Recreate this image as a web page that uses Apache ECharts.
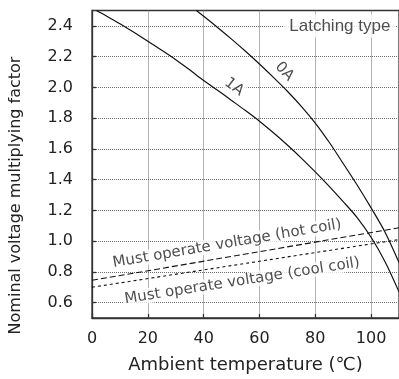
<!DOCTYPE html>
<html>
<head>
<meta charset="utf-8">
<script src="https://cdn.jsdelivr.net/npm/echarts@6/dist/echarts.min.js"></script>
<style>
  html, body { margin: 0; padding: 0; background: #fff; }
  #chart { width: 399px; height: 379px; }
</style>
</head>
<body>
<div id="chart"></div>
<script>
// Ambient temperature (°C) and nominal voltage multiplying factor for each curve
const temps0A = [37.4, 40, 45, 50, 55, 60, 65, 70, 75, 80, 85, 90, 95, 100, 105, 110];
const factor0A = [2.5, 2.463, 2.39, 2.314, 2.235, 2.152, 2.065, 1.975, 1.877, 1.768, 1.643, 1.505, 1.365, 1.216, 1.058, 0.861];

const temps1A = [1.6, 5, 10, 15, 20, 25, 30, 35, 40, 45, 50, 55, 60, 65, 70, 75, 80, 85, 90, 95, 100, 105, 110];
const factor1A = [2.5, 2.466, 2.414, 2.358, 2.30, 2.241, 2.18, 2.114, 2.045, 1.981, 1.915, 1.849, 1.78, 1.705, 1.625, 1.54, 1.45, 1.356, 1.257, 1.153, 1.025, 0.866, 0.67];

const tempsHot = [0, 110];
const factorHot = [0.745, 1.087];

const tempsCool = [0, 110];
const factorCool = [0.70, 1.010];

// Tick labels
const xTickLabels = [0, 20, 40, 60, 80, 100];
const yTickLabels = [0.6, 0.8, 1.0, 1.2, 1.4, 1.6, 1.8, 2.0, 2.2, 2.4];

// Curve annotations: [temperature, factor, text, rotation in degrees]
const curveNotes = [
  [50.9, 2.003, '1A', -38],
  [68.9, 2.103, '0A', -47],
  [48.4, 0.983, 'Must operate voltage (hot coil)', 9.7],
  [53.8, 0.741, 'Must operate voltage (cool coil)', 8.9]
];
const cornerNote = [88.8, 2.40, 'Latching type'];

const zip = (xs, ys) => xs.map((x, i) => [x, ys[i]]);

const FONT = "'DejaVu Sans', 'Noto Sans CJK JP', sans-serif";
const INK = '#222';

const chart = echarts.init(document.getElementById('chart'), null, { renderer: 'canvas' });

const curveLine = { color: '#111', width: 1.2 };
const gridDots = { color: '#6a6a6a', width: 1, type: [1, 1] };

chart.setOption({
  animation: false,
  backgroundColor: '#fff',
  grid: {
    left: 92, right: -2, top: 10.5, bottom: 60.5,
    show: true, borderColor: '#333', borderWidth: 1.3, backgroundColor: 'transparent'
  },
  xAxis: {
    type: 'value', min: 0, max: 110, interval: 10,
    name: 'Ambient temperature (℃)',
    nameLocation: 'middle', nameGap: 38,
    nameTextStyle: { fontFamily: FONT, fontSize: 18, color: INK },
    axisLine: { show: true, lineStyle: { color: '#333', width: 1.3 } },
    axisTick: { show: true, inside: true, length: 4, customValues: xTickLabels, lineStyle: { color: '#333', width: 1.3 } },
    axisLabel: { customValues: xTickLabels, margin: 13, fontFamily: FONT, fontSize: 16, color: INK },
    splitLine: { show: true, lineStyle: gridDots }
  },
  yAxis: {
    type: 'value', min: 0.5, max: 2.5, interval: 0.1,
    axisLine: { show: true, lineStyle: { color: '#333', width: 1.3 } },
    axisTick: { show: true, inside: true, length: 4, customValues: yTickLabels, lineStyle: { color: '#333', width: 1.3 } },
    axisLabel: {
      customValues: yTickLabels, margin: 19, fontFamily: FONT, fontSize: 16, color: INK,
      formatter: v => v.toFixed(1)
    },
    splitLine: { show: true, lineStyle: gridDots }
  },
  graphic: [{
    type: 'text', x: 15.5, y: 195.5, rotation: Math.PI / 2,
    style: {
      text: 'Nominal voltage multiplying factor',
      font: '16px ' + FONT, fill: INK, align: 'center', verticalAlign: 'middle'
    }
  }],
  series: [
    { type: 'line', name: '0A', data: zip(temps0A, factor0A), smooth: 0.3, symbol: 'none', lineStyle: curveLine },
    { type: 'line', name: '1A', data: zip(temps1A, factor1A), smooth: 0.3, symbol: 'none', lineStyle: curveLine },
    { type: 'line', name: 'hot coil', data: zip(tempsHot, factorHot), symbol: 'none',
      lineStyle: { color: '#111', width: 1.1, type: [6, 3] } },
    { type: 'line', name: 'cool coil', data: zip(tempsCool, factorCool), symbol: 'none',
      lineStyle: { color: '#111', width: 1.1, type: [3, 3] } },
    {
      type: 'scatter', name: 'notes', symbolSize: 1, itemStyle: { color: 'transparent' },
      data: curveNotes.map(n => ({
        value: [n[0], n[1]],
        label: { formatter: n[2], rotate: n[3] }
      })),
      label: {
        show: true, position: 'inside', fontFamily: FONT, fontSize: 15, color: INK,
        backgroundColor: '#fff', padding: [0, 1]
      },
      z: 5
    },
    {
      type: 'scatter', name: 'corner', symbolSize: 1, itemStyle: { color: 'transparent' },
      data: [{ value: [cornerNote[0], cornerNote[1]] }],
      label: {
        show: true, position: 'inside', formatter: cornerNote[2],
        fontFamily: "'Liberation Sans', Arial, sans-serif", fontSize: 17, color: INK,
        backgroundColor: '#fff', padding: [3, 5]
      },
      z: 5
    }
  ]
});
</script>
</body>
</html>
